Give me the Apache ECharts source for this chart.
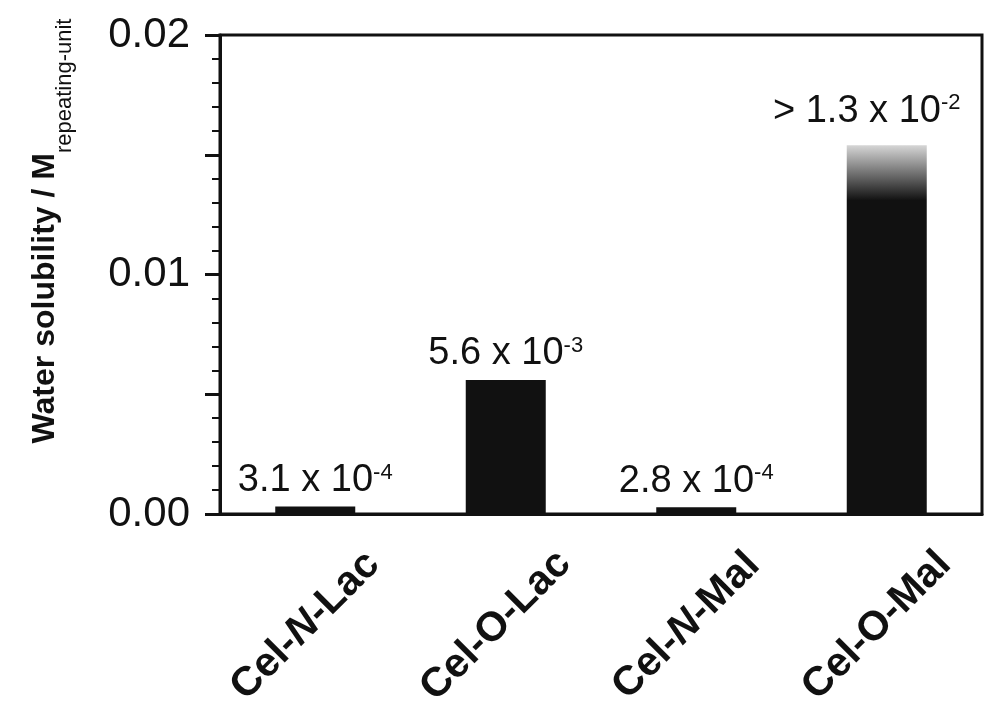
<!DOCTYPE html>
<html>
<head>
<meta charset="utf-8">
<script src="https://cdn.jsdelivr.net/npm/echarts@6/dist/echarts.min.js"></script>
<style>
  html, body { margin: 0; padding: 0; background: #fff; }
  #chart { width: 1000px; height: 706px; }
</style>
</head>
<body>
<div id="chart"></div>
<script>
  const categories = ["Cel-N-Lac", "Cel-O-Lac", "Cel-N-Mal", "Cel-O-Mal"];
  // last bar is only a lower bound (> 1.3e-2), drawn fading out at its top
  const solubility = [3.1e-4, 5.6e-3, 2.8e-4, 1.54e-2];
  const mantissas = ["3.1 x 10", "5.6 x 10", "2.8 x 10", "> 1.3 x 10"];
  const exponents = ["-4", "-3", "-4", "-2"];
  const yTickLabels = { "0": "0.00", "0.01": "0.01", "0.02": "0.02" };

  const font = "Liberation Sans, Arial, Helvetica, sans-serif";
  const ink = "#111";

  const chart = echarts.init(document.getElementById("chart"));

  const fadeTop = new echarts.graphic.LinearGradient(0, 0, 0, 1, [
    { offset: 0, color: "#d6d6d6" },
    { offset: 0.15, color: ink },
    { offset: 1, color: ink }
  ]);

  chart.setOption({
    animation: false,
    backgroundColor: "#fff",
    grid: {
      left: 220, right: 18, top: 35, bottom: 192,
      outerBoundsMode: "none",
      show: true, borderColor: ink, borderWidth: 3
    },
    xAxis: {
      type: "category",
      data: categories,
      axisLine: { lineStyle: { color: ink, width: 3 } },
      axisTick: { length: 14, lineStyle: { color: ink, width: 3 } },
      axisLabel: {
        rotate: 45,
        align: "center",
        verticalAlign: "middle",
        margin: 102,
        padding: [0, 28, 0, 0],
        color: ink,
        fontFamily: font,
        fontWeight: "bold",
        fontSize: 41,
        formatter: v => v.replace("-N-", "-{i|N}-"),
        rich: {
          i: { fontStyle: "italic", fontWeight: "bold", fontSize: 41, fontFamily: font, color: ink }
        }
      }
    },
    yAxis: {
      type: "value",
      min: 0,
      max: 0.02,
      interval: 0.005,
      splitLine: { show: false },
      axisLine: { show: true, lineStyle: { color: ink, width: 3 } },
      axisTick: { show: true, length: 15, lineStyle: { color: ink, width: 3 } },
      minorTick: { show: true, splitNumber: 5, length: 8, lineStyle: { color: ink, width: 2 } },
      axisLabel: {
        margin: 30,
        color: ink,
        fontFamily: font,
        fontSize: 42,
        formatter: v => yTickLabels[String(+v.toFixed(3))] || ""
      },
      name: "{a|Water solubility / M}{b|repeating-unit}",
      nameLocation: "middle",
      nameGap: 144,
      nameTextStyle: {
        padding: [0, 0, 0, 87],
        rich: {
          a: { fontFamily: font, fontWeight: "bold", fontSize: 32, color: ink, lineHeight: 34, verticalAlign: "top" },
          b: { fontFamily: font, fontSize: 22, color: ink, verticalAlign: "top", padding: [25, 0, 0, 0] }
        }
      }
    },
    series: [{
      type: "bar",
      barWidth: 80,
      data: solubility.map((v, i) =>
        i === solubility.length - 1
          ? { value: v, itemStyle: { color: fadeTop }, label: { distance: 15, offset: [-20, 0] } }
          : v
      ),
      itemStyle: { color: ink },
      label: {
        show: true,
        position: "top",
        distance: 7,
        formatter: p => "{m|" + mantissas[p.dataIndex] + "}{s|" + exponents[p.dataIndex] + "}",
        rich: {
          m: { fontFamily: font, fontSize: 38, color: ink, lineHeight: 38 },
          s: { fontFamily: font, fontSize: 22, color: ink, lineHeight: 22, verticalAlign: "top" }
        }
      }
    }]
  });
</script>
</body>
</html>
